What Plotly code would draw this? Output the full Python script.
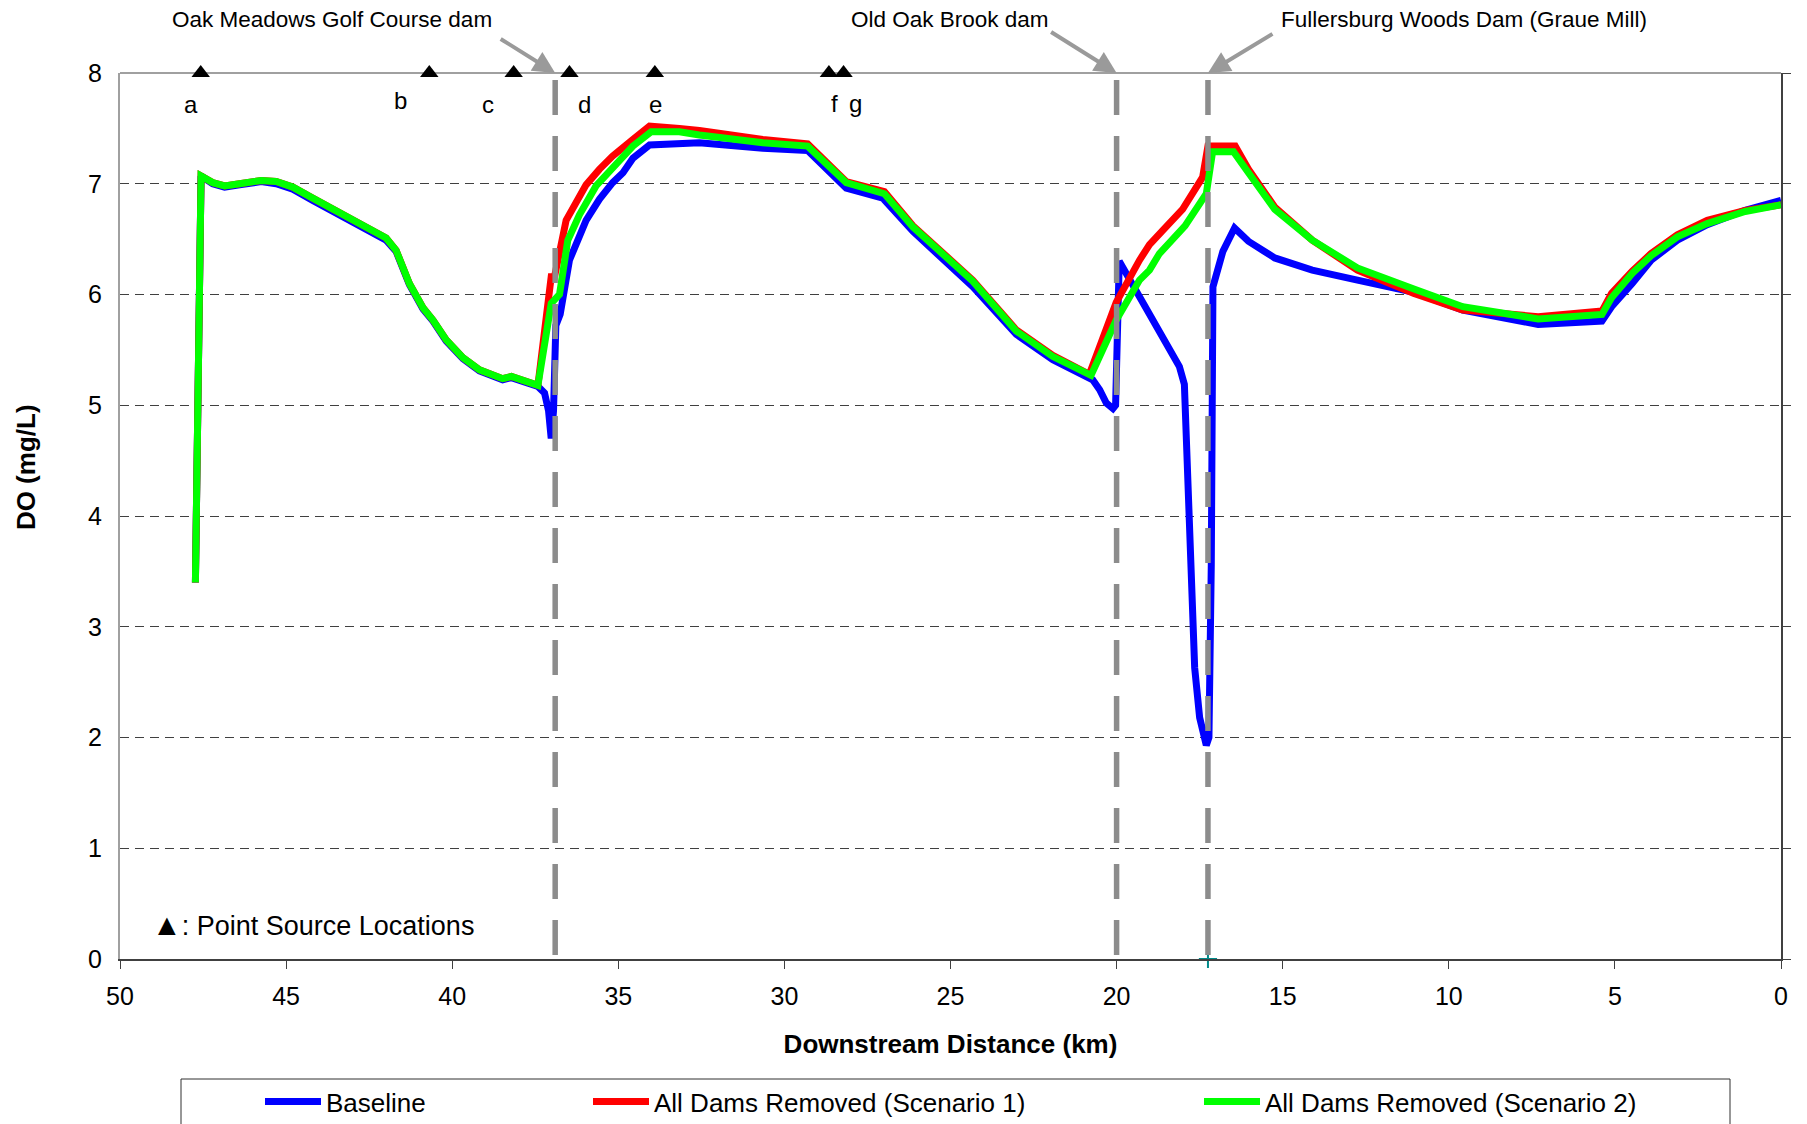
import plotly.graph_objects as go

# ---------------- data ----------------
baseline_km = [47.73, 47.56, 47.21, 46.85, 46.40, 45.75, 45.30, 44.80, 44.20, 43.49, 42.79, 42.19,
               41.99, 41.69, 41.29, 40.88, 40.58, 40.18, 39.68, 39.18, 38.48, 38.22, 37.42, 37.22,
               37.10, 37.02, 36.95, 36.88, 36.75, 36.47, 36.37, 35.97, 35.57, 35.17, 34.86, 34.56,
               34.06, 33.16, 32.56, 30.65, 29.30, 28.14, 27.04, 26.13, 24.33, 23.02, 21.92, 20.72,
               20.51, 20.31, 20.11, 20.03, 19.92, 19.31, 18.71, 18.11, 17.96, 17.86, 17.75, 17.65,
               17.50, 17.30, 17.22, 17.15, 17.10, 16.80, 16.45, 16.03, 15.24, 14.11, 12.75, 11.05,
               9.58, 7.31, 5.39, 5.10, 4.48, 3.91, 3.12, 2.22, 1.08, 0.0]
baseline_do = [3.40, 7.07, 7.00, 6.97, 6.99, 7.02, 7.00, 6.95, 6.85, 6.73, 6.61, 6.52,
               6.49, 6.39, 6.09, 5.87, 5.76, 5.58, 5.42, 5.31, 5.23, 5.25, 5.17, 5.11,
               4.95, 4.70, 4.95, 5.72, 5.82, 6.31, 6.39, 6.67, 6.86, 7.01, 7.10, 7.23,
               7.35, 7.37, 7.37, 7.32, 7.30, 6.96, 6.87, 6.57, 6.07, 5.64, 5.41, 5.23,
               5.14, 5.02, 4.97, 5.00, 6.30, 5.98, 5.65, 5.35, 5.19, 4.31, 3.19, 2.63,
               2.18, 1.93, 2.00, 3.56, 6.07, 6.39, 6.60, 6.48, 6.33, 6.22, 6.13, 6.02,
               5.86, 5.73, 5.76, 5.89, 6.10, 6.31, 6.49, 6.63, 6.76, 6.85]

scen1_km = [47.73, 47.56, 47.21, 46.85, 46.40, 45.75, 45.30, 44.80, 44.20, 43.49, 42.79, 42.19,
            41.99, 41.69, 41.29, 40.88, 40.58, 40.18, 39.68, 39.18, 38.48, 38.22, 37.42,
            37.02, 36.92, 36.57, 35.97, 35.57, 35.17, 34.56, 34.06, 33.16, 32.56, 30.65, 29.30,
            28.14, 26.99, 26.13, 24.33, 23.02, 21.92, 20.82, 20.01, 19.31, 19.01, 18.61, 18.01,
            17.41, 17.25, 17.11, 16.43, 16.03, 15.24, 14.11, 12.75, 11.05, 9.58, 7.31, 5.39,
            5.10, 4.48, 3.91, 3.12, 2.22, 1.08, 0.0]
scen1_do = [3.40, 7.07, 7.01, 6.98, 7.00, 7.03, 7.02, 6.97, 6.87, 6.75, 6.63, 6.54,
            6.51, 6.40, 6.10, 5.88, 5.77, 5.59, 5.43, 5.32, 5.24, 5.26, 5.18,
            6.16, 6.16, 6.67, 6.99, 7.13, 7.25, 7.40, 7.52, 7.50, 7.48, 7.40, 7.36,
            7.02, 6.93, 6.62, 6.13, 5.68, 5.45, 5.28, 5.93, 6.31, 6.45, 6.58, 6.77,
            7.06, 7.34, 7.34, 7.34, 7.13, 6.79, 6.49, 6.22, 6.01, 5.86, 5.80, 5.85,
            6.01, 6.21, 6.37, 6.54, 6.67, 6.76, 6.81]

scen2_km = [47.73, 47.56, 47.21, 46.85, 46.40, 45.75, 45.30, 44.80, 44.20, 43.49, 42.79, 42.19,
            41.99, 41.69, 41.29, 40.88, 40.58, 40.18, 39.68, 39.18, 38.48, 38.22, 37.42,
            37.02, 36.77, 36.52, 36.17, 35.67, 35.06, 34.56, 34.01, 33.16, 32.56, 30.65, 29.30,
            28.14, 26.99, 26.13, 24.33, 23.02, 21.92, 20.77, 20.01, 19.31, 19.01, 18.71, 17.94,
            17.30, 17.11, 16.48, 16.03, 15.24, 14.11, 12.75, 11.05, 9.58, 7.31, 5.39, 5.10,
            4.48, 3.91, 3.12, 2.22, 1.08, 0.0]
scen2_do = [3.40, 7.07, 7.01, 6.98, 7.00, 7.03, 7.02, 6.97, 6.87, 6.75, 6.63, 6.54,
            6.51, 6.40, 6.10, 5.88, 5.77, 5.59, 5.43, 5.32, 5.24, 5.26, 5.18,
            5.92, 6.00, 6.49, 6.72, 6.98, 7.19, 7.34, 7.47, 7.47, 7.44, 7.37, 7.34,
            7.01, 6.91, 6.61, 6.12, 5.67, 5.44, 5.27, 5.77, 6.13, 6.22, 6.37, 6.62,
            6.91, 7.29, 7.29, 7.10, 6.77, 6.49, 6.24, 6.05, 5.89, 5.78, 5.82, 5.97,
            6.19, 6.35, 6.52, 6.64, 6.75, 6.81]

series_names = ["Baseline", "All Dams Removed (Scenario 1)", "All Dams Removed (Scenario 2)"]

dam_km = [36.9, 20.0, 17.25]
dam_names = ["Oak Meadows Golf Course dam", "Old Oak Brook dam", "Fullersburg Woods Dam (Graue Mill)"]

source_km = [47.57, 40.69, 38.15, 36.47, 33.90, 28.66, 28.22]
source_labels = ["a", "b", "c", "d", "e", "f", "g"]

marker_km = [17.25]
marker_do = [0.0]

x_ticks = [50, 45, 40, 35, 30, 25, 20, 15, 10, 5, 0]
y_ticks = [0, 1, 2, 3, 4, 5, 6, 7, 8]

# ---------------- layout geometry (pixels) ----------------
W, H = 1807, 1124
PL, PR, PT, PB = 120, 1781, 73, 959
X_MAX, X_MIN = 50, 0
Y_MIN, Y_MAX = 0, 8


def paper_x(px):
    return (px - PL) / (PR - PL)


def paper_y(py):
    return (PB - py) / (PB - PT)


def km_at(px):
    return X_MAX - (px - PL) / (PR - PL) * (X_MAX - X_MIN)


def do_at(py):
    return Y_MAX - (py - PT) / (PB - PT) * (Y_MAX - Y_MIN)


FONT = "Liberation Sans, Arial, Helvetica, sans-serif"
colors = ["#0000FF", "#FF0000", "#00FF00"]

fig = go.Figure()

all_series = [(baseline_km, baseline_do), (scen1_km, scen1_do), (scen2_km, scen2_do)]
legend_ids = ["legend", "legend2", "legend3"]
for (xs, ys), name, col, lg in zip(all_series, series_names, colors, legend_ids):
    fig.add_trace(go.Scatter(x=xs, y=ys, mode="lines", name=name, legend=lg,
                             line=dict(color=col, width=7), cliponaxis=True))

# point source triangles along the top
fig.add_trace(go.Scatter(x=source_km, y=[Y_MAX] * len(source_km), mode="markers",
                         marker=dict(symbol="triangle-up", size=16, color="black"),
                         showlegend=False, cliponaxis=False, hoverinfo="skip"))

# small teal marker at the base of the Fullersburg dam
fig.add_trace(go.Scatter(x=marker_km, y=marker_do, mode="markers", yaxis="y2",
                         marker=dict(symbol="cross-thin", size=13,
                                     line=dict(color="#008B8B", width=2)),
                         showlegend=False, cliponaxis=False, hoverinfo="skip"))

shapes = []
# dam lines
for d in dam_km:
    shapes.append(dict(type="line", xref="x", yref="y", x0=d, x1=d, y0=do_at(80), y1=Y_MIN,
                       line=dict(color="#8c8c8c", width=5.5, dash="35px,21px"), layer="above"))
# top border (gray)
shapes.append(dict(type="line", xref="paper", yref="paper", x0=0, x1=1, y0=1, y1=1,
                   line=dict(color="#a0a0a0", width=2), layer="below"))
# legend frame
shapes.append(dict(type="rect", xref="paper", yref="paper",
                   x0=paper_x(181), x1=paper_x(1730), y0=paper_y(1079), y1=paper_y(1140),
                   line=dict(color="#303030", width=1), fillcolor="rgba(0,0,0,0)"))

annotations = []
# dam titles
title_px = [332, 950, 1463.5]
for name, px in zip(dam_names, title_px):
    annotations.append(dict(text=name, xref="paper", yref="paper", x=paper_x(px), y=paper_y(19.6),
                            xanchor="center", yanchor="middle", showarrow=False,
                            font=dict(size=22.5, color="black", family=FONT)))
# arrows
arrow_off = [(-56, -35), (-67, -42), (66, -40)]
for d, (axp, ayp) in zip(dam_km, arrow_off):
    annotations.append(dict(text="", x=d, y=Y_MAX, xref="x", yref="y", ax=axp, ay=ayp,
                            showarrow=True, arrowhead=2, arrowsize=1.1, arrowwidth=4,
                            arrowcolor="#9a9a9a", standoff=0))
# point-source letters
label_px = [191, 400.4, 488, 584.8, 655.4, 834, 855.4]
label_py = [104, 100, 104, 104, 104, 103.3, 103.3]
for lab, px, py in zip(source_labels, label_px, label_py):
    annotations.append(dict(text=lab, xref="x", yref="y", x=km_at(px), y=do_at(py),
                            xanchor="center", yanchor="middle", showarrow=False,
                            font=dict(size=24, color="black", family=FONT)))
annotations.append(dict(text="<span style='font-size:30px'>▲</span>: Point Source Locations",
                        xref="x", yref="y", x=km_at(150), y=do_at(924), xanchor="left",
                        yanchor="middle", showarrow=False,
                        font=dict(size=27, color="black", family=FONT)))
# y axis title
annotations.append(dict(text="<b>DO (mg/L)</b>", xref="paper", yref="paper",
                        x=paper_x(25.4), y=paper_y(466.7), textangle=-90,
                        xanchor="center", yanchor="middle", showarrow=False,
                        font=dict(size=26, color="black", family=FONT)))

legend_common = dict(xanchor="left", yanchor="middle", bgcolor="rgba(0,0,0,0)",
                     borderwidth=0, font=dict(size=26, color="black", family=FONT),
                     itemwidth=56)
leg_px = [260, 588, 1199]
leg_y = paper_y(1101.7)

fig.update_layout(
    width=W, height=H,
    margin=dict(l=PL, r=W - PR, t=PT, b=H - PB, autoexpand=False),
    paper_bgcolor="white", plot_bgcolor="white",
    font=dict(family=FONT, size=25, color="black"),
    showlegend=True,
    legend=dict(x=paper_x(leg_px[0]), y=leg_y, **legend_common),
    legend2=dict(x=paper_x(leg_px[1]), y=leg_y, **legend_common),
    legend3=dict(x=paper_x(leg_px[2]), y=leg_y, **legend_common),
    xaxis=dict(range=[X_MAX, X_MIN], tickvals=x_ticks, ticktext=[str(v) for v in x_ticks],
               showline=True, linecolor="#404040", linewidth=2,
               ticks="outside", ticklen=8, tickwidth=1, tickcolor="#404040",
               showgrid=False, zeroline=False, tickfont=dict(size=25),
               ticklabelstandoff=6,
               title=dict(text="<b>Downstream Distance (km)</b>", font=dict(size=26),
                          standoff=26)),
    yaxis=dict(range=[Y_MIN, Y_MAX], tickvals=y_ticks, ticktext=[str(v) for v in y_ticks],
               showline=True, linecolor="#a0a0a0", linewidth=2, ticks="",
               showgrid=True, gridcolor="#404040", gridwidth=1, griddash="9px,6px",
               zeroline=False, tickfont=dict(size=25), ticklabelstandoff=11),
    yaxis2=dict(range=[Y_MIN, Y_MAX], overlaying="y", side="right", anchor="x",
                tickvals=y_ticks, showticklabels=False, showline=True,
                linecolor="#404040", linewidth=2, ticks="outside", ticklen=8,
                tickcolor="#404040", showgrid=False, zeroline=False),
    shapes=shapes,
    annotations=annotations,
)

fig.write_html("out.html", config={"displayModeBar": False},
               post_script="document.body.style.margin='0px';")
